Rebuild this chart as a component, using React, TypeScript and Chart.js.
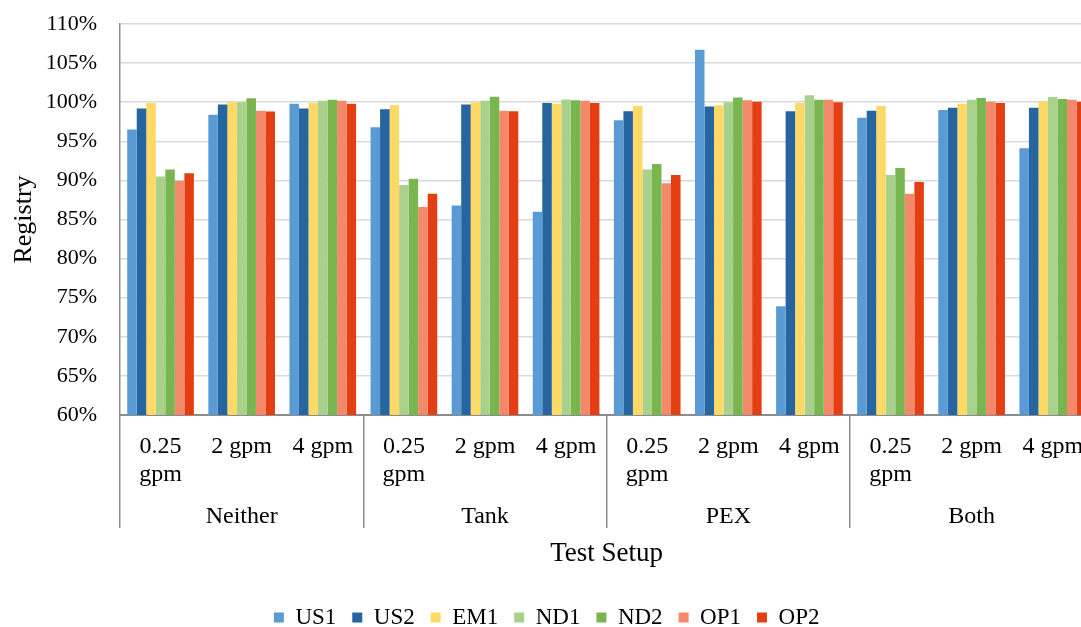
import React, { useEffect, useRef } from "react";
import { Chart, registerables } from "chart.js";

Chart.register(...registerables);

// ---- data ----
const groups = ["Neither", "Tank", "PEX", "Both"];
const flowLabels: (string | string[])[] = [["0.25", "gpm"], "2 gpm", "4 gpm"];
const seriesNames = ["US1", "US2", "EM1", "ND1", "ND2", "OP1", "OP2"];

const US1 = [96.5, 98.4, 99.8, 96.8, 86.8, 86.0, 97.7, 106.7, 73.9, 98.0, 99.0, 94.1];
const US2 = [99.2, 99.7, 99.2, 99.1, 99.7, 99.9, 98.85, 99.45, 98.85, 98.9, 99.3, 99.3];
const EM1 = [99.9, 100.0, 99.9, 99.6, 100.0, 99.8, 99.5, 99.6, 99.9, 99.5, 99.8, 100.1];
const ND1 = [90.5, 100.0, 100.2, 89.4, 100.2, 100.35, 91.4, 100.0, 100.9, 90.7, 100.3, 100.65];
const ND2 = [91.4, 100.5, 100.3, 90.2, 100.7, 100.25, 92.1, 100.6, 100.3, 91.6, 100.55, 100.4];
const OP1 = [89.95, 98.9, 100.2, 86.6, 98.9, 100.2, 89.65, 100.25, 100.3, 88.3, 100.05, 100.3];
const OP2 = [90.9, 98.8, 99.8, 88.3, 98.85, 99.9, 90.7, 100.05, 100.0, 89.8, 99.9, 100.05];

const seriesValues = [US1, US2, EM1, ND1, ND2, OP1, OP2];
const seriesColors = ["#5B9BD5", "#26659F", "#FFD966", "#A9D18E", "#7AB650", "#F4886A", "#E33F13"];

const yMin = 60;
const yMax = 110;
const yStep = 5;

const FONT = "'Liberation Serif', 'Times New Roman', serif";
const AXIS_GRAY = "#8c8c8c";

export default function App() {
  const canvasRef = useRef<HTMLCanvasElement | null>(null);

  useEffect(() => {
    const canvas = canvasRef.current;
    if (!canvas) return;
    const labels = groups.flatMap(() => flowLabels);
    const chart = new Chart(canvas, {
      type: "bar",
      data: {
        labels,
        datasets: seriesNames.map((name, i) => ({
          label: name,
          data: seriesValues[i],
          backgroundColor: seriesColors[i],
          borderWidth: 0,
          categoryPercentage: 0.822,
          barPercentage: 1,
        })),
      },
      options: {
        responsive: false,
        animation: false,
        devicePixelRatio: 1,
        layout: { padding: { top: 24, left: 0, right: 0.7, bottom: 0 } },
        plugins: {
          legend: {
            position: "bottom",
            labels: {
              boxWidth: 10,
              boxHeight: 10,
              padding: 16,
              color: "#000",
              font: { family: FONT, size: 23 },
            },
          },
          tooltip: { enabled: false },
        },
        scales: {
          y: {
            min: yMin,
            max: yMax,
            ticks: {
              stepSize: yStep,
              callback: (v: any) => v + "%",
              padding: 23,
              color: "#000",
              font: { family: FONT, size: 22 },
            },
            grid: { color: "#d9d9d9", lineWidth: 1.5, drawTicks: false },
            border: { display: true, color: AXIS_GRAY, width: 1.5 },
            title: {
              display: true,
              text: "Registry",
              color: "#000",
              font: { family: FONT, size: 26 },
              padding: { top: 8.4, bottom: 0 },
            },
            afterFit: (s: any) => {
              s.width = 120;
              s.paddingTop = 0;
              s.paddingBottom = 0;
            },
          },
          x: {
            type: "category",
            offset: true,
            weight: 0,
            grid: {
              offset: true,
              drawOnChartArea: false,
              drawTicks: true,
              tickLength: 85,
              lineWidth: 1.5,
              color: (c: any) =>
                c.index !== undefined && c.index % 3 === 0 ? AXIS_GRAY : "rgba(0,0,0,0)",
            },
            border: { display: true, color: AXIS_GRAY, width: 2 },
            ticks: {
              autoSkip: false,
              maxRotation: 0,
              padding: 18 - 85,
              color: "#000",
              font: { family: FONT, size: 24, lineHeight: "28px" },
            },
            afterFit: (s: any) => {
              s.height = 85;
            },
          },
          x2: {
            type: "category",
            labels: groups,
            position: "bottom",
            offset: true,
            weight: 1,
            grid: {
              offset: true,
              drawOnChartArea: false,
              drawTicks: true,
              tickLength: 28,
              lineWidth: 1.5,
              color: AXIS_GRAY,
            },
            border: { display: false },
            ticks: {
              autoSkip: false,
              maxRotation: 0,
              padding: -25.4,
              color: "#000",
              font: { family: FONT, size: 24 },
            },
            title: {
              display: true,
              text: "Test Setup",
              color: "#000",
              font: { family: FONT, size: 27 },
              padding: { top: 0, bottom: 19.8 },
            },
            afterFit: (s: any) => {
              s.height = 90;
            },
          },
        },
      } as any,
    });
    return () => chart.destroy();
  }, []);

  return (
    <div
      style={{
        position: "fixed",
        left: 0,
        top: 0,
        width: 1081,
        height: 627,
        overflow: "hidden",
        background: "#fff",
      }}
    >
      <canvas ref={canvasRef} width={1094} height={639} style={{ display: "block" }} />
    </div>
  );
}
